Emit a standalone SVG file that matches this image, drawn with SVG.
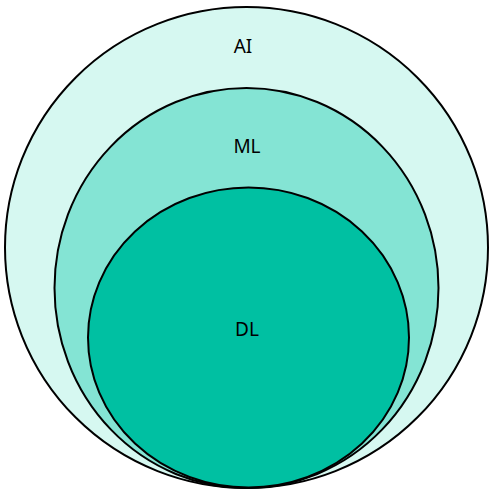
<svg xmlns="http://www.w3.org/2000/svg" width="495" height="492" viewBox="0 0 495 492">
<style>
.c{stroke:#000;stroke-width:2}
.t{font-family:"Noto Sans","Open Sans",sans-serif;font-size:19px;fill:#000;text-anchor:middle}
</style>
<rect width="495" height="492" fill="#fff"/>
<g id="ai"><ellipse class="c" cx="246.5" cy="247.5" rx="241.5" ry="240.5" fill="#d6f8f1"/><text class="t" x="243" y="53">AI</text></g>
<g id="ml"><ellipse class="c" cx="246.5" cy="288" rx="192" ry="200" fill="#84e4d4"/><text class="t" x="247" y="153">ML</text></g>
<g id="dl"><ellipse class="c" cx="248.5" cy="337.5" rx="160.5" ry="150" fill="#00c0a2"/><text class="t" x="247" y="336">DL</text></g>
<g id="connectors"/>
</svg>
